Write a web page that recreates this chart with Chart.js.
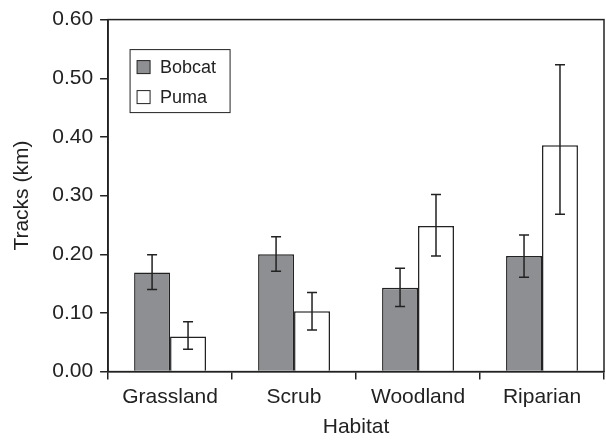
<!DOCTYPE html>
<html>
<head>
<meta charset="utf-8">
<script src="https://cdn.jsdelivr.net/npm/chart.js@4/dist/chart.umd.min.js"></script>
<style>
  html, body { margin: 0; padding: 0; background: #fff; }
  #wrap { width: 606px; height: 440px; position: relative; }
</style>
</head>
<body>
<div id="wrap"><canvas id="habitatChart"></canvas></div>
<script>
// Data
const habitats = ['Grassland', 'Scrub', 'Woodland', 'Riparian'];
const bobcatMean = [0.169, 0.200, 0.143, 0.197];
const bobcatLow = [0.140, 0.171, 0.111, 0.161];
const bobcatHigh = [0.199, 0.230, 0.176, 0.233];
const pumaMean = [0.060, 0.103, 0.248, 0.386];
const pumaLow = [0.038, 0.071, 0.197, 0.268];
const pumaHigh = [0.085, 0.135, 0.302, 0.523];
const yTicks = [0, 0.1, 0.2, 0.3, 0.4, 0.5, 0.6];

const errLow = [bobcatLow, pumaLow];
const errHigh = [bobcatHigh, pumaHigh];
const ink = '#222';
const fontFamily = '"Liberation Sans", Arial, sans-serif';

// Error bars with caps, drawn from each bar's own scale position
const errorBarPlugin = {
    id: 'errorBars',
    afterDatasetsDraw(chart) {
        const ctx = chart.ctx;
        const yScale = chart.scales.y;
        ctx.save();
        ctx.strokeStyle = ink;
        ctx.lineWidth = 1.5;
        chart.data.datasets.forEach((ds, di) => {
            const meta = chart.getDatasetMeta(di);
            meta.data.forEach((bar, i) => {
                const top = yScale.getPixelForValue(errHigh[di][i]);
                const bot = yScale.getPixelForValue(errLow[di][i]);
                const x = bar.x;
                ctx.beginPath();
                ctx.moveTo(x, top); ctx.lineTo(x, bot);
                ctx.moveTo(x - 5, top); ctx.lineTo(x + 5, top);
                ctx.moveTo(x - 5, bot); ctx.lineTo(x + 5, bot);
                ctx.stroke();
            });
        });
        ctx.restore();
    }
};

// Frame around plot plus inset legend box
const framePlugin = {
    id: 'frame',
    afterDraw(chart) {
        const ctx = chart.ctx;
        const a = chart.chartArea;
        ctx.save();
        ctx.strokeStyle = ink;
        ctx.lineWidth = 1.5;
        ctx.strokeRect(a.left, a.top, a.right - a.left, a.bottom - a.top);

        // legend
        const lx = a.left + 22, ly = a.top + 30, lw = 100, lh = 63;
        ctx.fillStyle = '#fff';
        ctx.fillRect(lx, ly, lw, lh);
        ctx.lineWidth = 1;
        ctx.strokeRect(lx, ly, lw, lh);
        ctx.font = '18px ' + fontFamily;
        ctx.textBaseline = 'middle';
        chart.data.datasets.forEach((ds, i) => {
            const cy = ly + 17 + i * 30;
            ctx.fillStyle = ds.backgroundColor;
            ctx.fillRect(lx + 7, cy - 6, 13, 13);
            ctx.strokeStyle = ink;
            ctx.strokeRect(lx + 7, cy - 6, 13, 13);
            ctx.fillStyle = ink;
            ctx.fillText(ds.label, lx + 30, cy + 1);
        });
        ctx.restore();
    }
};

const ctx = document.getElementById('habitatChart').getContext('2d');
new Chart(ctx, {
    type: 'bar',
    data: {
        labels: habitats,
        datasets: [
            {
                label: 'Bobcat',
                data: bobcatMean,
                backgroundColor: '#8e8f93',
                borderColor: ink,
                borderWidth: 1.5,
                categoryPercentage: 0.58,
                barPercentage: 1.0
            },
            {
                label: 'Puma',
                data: pumaMean,
                backgroundColor: '#ffffff',
                borderColor: ink,
                borderWidth: 1.5,
                categoryPercentage: 0.58,
                barPercentage: 1.0
            }
        ]
    },
    options: {
        responsive: true,
        maintainAspectRatio: false,
        animation: false,
        layout: { padding: { top: 5, right: 2, left: 10, bottom: 0 } },
        plugins: {
            legend: { display: false },
            tooltip: { enabled: false }
        },
        scales: {
            x: {
                grid: {
                    offset: true,
                    drawOnChartArea: false,
                    drawTicks: true,
                    tickLength: 8,
                    color: ink,
                    lineWidth: 1.5
                },
                border: { color: ink, width: 1.5 },
                ticks: {
                    color: ink,
                    padding: 5,
                    font: { family: fontFamily, size: 21 }
                },
                title: {
                    display: true,
                    text: 'Habitat',
                    color: ink,
                    padding: { top: 0, bottom: 0 },
                    font: { family: fontFamily, size: 21 }
                }
            },
            y: {
                min: yTicks[0],
                max: yTicks[yTicks.length - 1],
                afterBuildTicks(axis) {
                    axis.ticks = yTicks.map(v => ({ value: v }));
                },
                grid: {
                    drawOnChartArea: false,
                    drawTicks: true,
                    tickLength: 8,
                    color: ink,
                    lineWidth: 1.5
                },
                border: { color: ink, width: 1.5 },
                ticks: {
                    color: ink,
                    padding: 7,
                    callback: v => Number(v).toFixed(2),
                    font: { family: fontFamily, size: 21 }
                },
                title: {
                    display: true,
                    text: 'Tracks (km)',
                    color: ink,
                    padding: { top: 0, bottom: 10 },
                    font: { family: fontFamily, size: 21 }
                }
            }
        }
    },
    plugins: [errorBarPlugin, framePlugin]
});
</script>
</body>
</html>
